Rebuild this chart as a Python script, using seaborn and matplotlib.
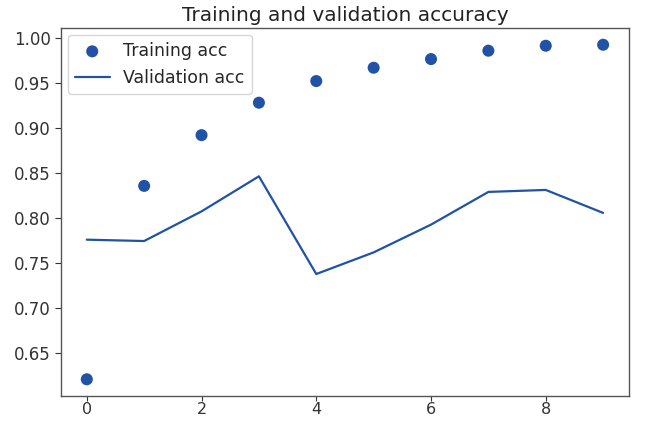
import matplotlib
matplotlib.use("Agg")
import matplotlib.pyplot as plt
import seaborn as sns
import pandas as pd

epochs = [0, 1, 2, 3, 4, 5, 6, 7, 8, 9]
training_acc = [0.621, 0.8356, 0.8919, 0.9279, 0.9519, 0.9667, 0.9763, 0.9856, 0.9911, 0.9922]
validation_acc = [0.7759, 0.7744, 0.8073, 0.8462, 0.7378, 0.7618, 0.7926, 0.8289, 0.8311, 0.8056]
title = "Training and validation accuracy"
yticks = [0.65, 0.70, 0.75, 0.80, 0.85, 0.90, 0.95, 1.00]

sns.set_style("ticks")
plt.rcParams['font.family'] = ['DejaVu Sans']

color = "#2152a6"
df = pd.DataFrame({"epoch": epochs, "train": training_acc, "val": validation_acc})

fig = plt.figure(figsize=(6.5, 4.22), dpi=100)
ax = fig.add_axes([0.0938, 0.0616, 0.8738, 0.8720])

sns.scatterplot(data=df, x="epoch", y="train", ax=ax, color=color, s=75,
                edgecolor="none", label="Training acc", zorder=3)
sns.lineplot(data=df, x="epoch", y="val", ax=ax, color=color, linewidth=1.6,
             label="Validation acc")

ax.set_xlabel("")
ax.set_ylabel("")
ax.set_title(title, fontsize=14.5, color="#222222", pad=5)
ax.set_xticks([0, 2, 4, 6, 8])
ax.set_yticks(yticks)
ax.set_yticklabels([f"{v:.2f}" for v in yticks])
ax.tick_params(axis="y", labelsize=12, colors="#333333", length=4)
ax.tick_params(axis="x", labelsize=11.5, colors="#333333", length=3.5, pad=1)
ax.margins(x=0.05, y=0.05)
for sp in ax.spines.values():
    sp.set_visible(True)
    sp.set_color("#555555")
    sp.set_linewidth(1.0)

leg = ax.legend(loc="upper left", fontsize=12.5, frameon=True, borderaxespad=0.4)
leg.get_frame().set_edgecolor("#cccccc")

fig.savefig("out.png", dpi=100)
